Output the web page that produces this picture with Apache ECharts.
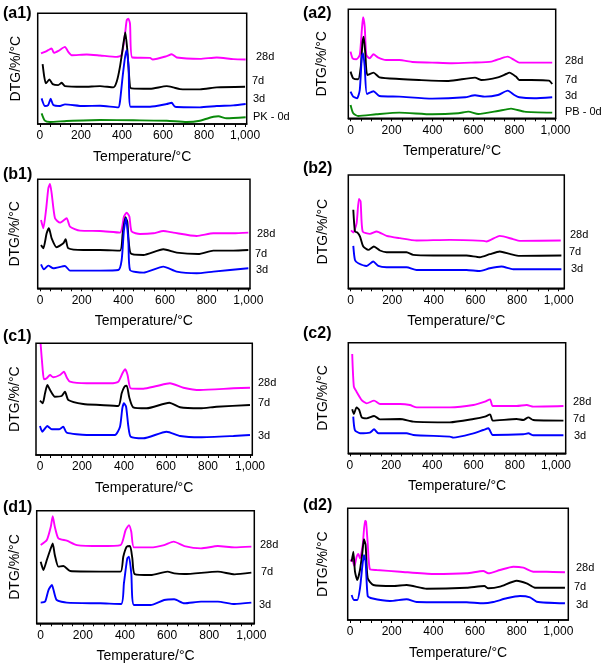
<!DOCTYPE html>
<html><head><meta charset="utf-8">
<script src="https://cdn.jsdelivr.net/npm/echarts@6/dist/echarts.min.js"></script>
<style>html,body{margin:0;padding:0;background:#fff}#c{width:602px;height:664px}</style>
</head><body><div id="c"></div>
<script>
// ---- data: [temperature °C, DTG (arbitrary, offset-stacked)] ----
const xTickLabels = [0, 200, 400, 600, 800, 1000];
const xMinorTicks = [0,50,100,150,200,250,300,350,400,450,500,550,600,650,700,750,800,850,900,950,1000];
const ageNames = ['28d', '7d', '3d'];
const zeroNames = ['PK - 0d', 'PB - 0d'];
const panelNames = ['(a1)', '(a2)', '(b1)', '(b2)', '(c1)', '(c2)', '(d1)', '(d2)'];

const a1_28 = [[5,70.7],[24,72.3],[40,74],[57,75.7],[68,71.3],[90,73.3],[122,77.3],[138,72.3],[155,69],[228,69.7],[293,68.7],[374,67.3],[398,69],[415,90.7],[423,104],[431,105.7],[439,100.7],[450,66.7],[537,66.3],[550,64.7],[618,68],[642,70],[667,66.7],[780,65.3],[862,66.7],[943,65],[1003,64.7]];
const a1_7 = [[13,60],[21,47.3],[29,40.7],[46,44.7],[62,40],[89,39],[106,41.3],[122,38],[211,37.3],[293,38],[358,36.7],[374,42.3],[390,57.3],[407,80.7],[416,91.7],[426,74],[439,37.3],[447,35.7],[537,35.3],[618,38],[650,36.7],[683,35],[780,34.7],[862,36.7],[1000,37.3]];
const a1_3 = [[8,25.7],[24,18],[40,19],[52,25.3],[65,19],[98,18],[122,19.7],[211,18],[293,18.3],[382,16.7],[390,22.3],[403,47.3],[415,67.3],[423,74],[432,57.3],[442,17.3],[537,17.3],[618,20],[642,21.3],[659,17.3],[780,16.7],[862,18],[943,18.7],[1003,20]];
const a1_0 = [[8,10.7],[24,3.3],[49,2],[130,3],[293,4],[455,3.7],[618,3.3],[715,2],[780,3.3],[846,7.3],[870,7.7],[910,5.7],[1003,6.7]];

const a2_28 = [[0,66.7],[10,60],[29,59],[45,63.3],[55,88.3],[61,101],[69,91.7],[77,63.3],[93,60],[112,64],[133,61],[173,58.3],[238,58.3],[302,56.3],[398,55.7],[494,55],[591,55.7],[687,56.7],[735,60],[767,61.7],[799,58.3],[823,55.7],[880,55.7],[984,55.7]];
const a2_7 = [[0,46.7],[13,40],[37,39],[50,51.7],[58,75],[64,81.7],[72,65],[82,43.3],[112,45.7],[141,41],[238,39.3],[334,38.3],[478,37.3],[607,40.7],[639,38.3],[719,41],[759,44.3],[775,45.7],[807,41.7],[823,38.3],[880,38.3],[968,37.7],[984,34.3]];
const a2_3 = [[0,26.7],[13,21.7],[32,20],[45,28.3],[55,61.7],[61,65],[69,51.7],[80,24.3],[112,27],[141,22.3],[238,21.7],[398,19.7],[559,21],[607,23],[655,21.7],[719,23.3],[767,27.7],[799,23.3],[823,21],[896,20],[984,21]];
const a2_0 = [[0,13.3],[13,5],[37,2.3],[125,4],[238,5.7],[398,4],[526,5],[575,6.7],[623,4.3],[719,7.3],[783,9.7],[848,6.7],[984,5.7]];

const b1_28 = [[5,68.3],[16,60],[29,78.3],[40,100],[48,104.3],[56,95],[72,70],[96,65.7],[128,70],[144,61.7],[192,57.7],[288,57.3],[384,55.7],[403,71.7],[416,75.7],[429,71.7],[440,56.7],[480,54.3],[544,55],[592,57.3],[640,55.7],[752,52.3],[832,55],[928,55],[1000,55.7]];
const b1_7 = [[5,43.3],[16,40],[32,55],[43,60],[56,50],[80,41],[112,45],[123,49],[136,40],[208,38.3],[288,38.3],[384,37.7],[397,55],[410,71],[419,66.7],[435,35],[496,33.3],[592,39],[656,35.7],[760,34.3],[832,37.7],[928,37.7],[1000,38.3]];
const b1_3 = [[5,24],[19,19],[40,22.7],[64,20],[120,22.3],[144,17.7],[288,17.7],[376,18.3],[392,28.3],[403,58.3],[413,70],[424,48.3],[432,18.3],[496,15.7],[592,21.7],[656,16.7],[752,15],[832,16.7],[1000,20]];

const b2_28 = [[2,57.7],[13,55.7],[29,65],[40,89],[48,86.7],[58,56.7],[93,54.3],[125,56.7],[173,52.3],[237,50],[317,47.7],[477,48.3],[637,47.3],[653,46.7],[717,52.3],[781,49],[813,47.3],[1010,47.7]];
const b2_7 = [[13,78.3],[21,56.7],[32,55.7],[45,51.7],[61,41.7],[85,38.3],[112,41.7],[141,37.7],[173,36],[269,36],[301,33.3],[397,32.7],[557,32.7],[621,31],[669,34],[717,36.7],[765,34.3],[813,32.3],[1013,32.7]];
const b2_3 = [[13,42.3],[21,28.3],[37,25],[77,22.3],[109,26.7],[133,22.3],[173,21],[269,21],[317,18.3],[557,18.3],[621,17.3],[669,20],[725,21.7],[781,19],[1013,19]];

const c1_28 = [[3,111],[13,85],[19,75.7],[32,76.7],[48,80],[63,77.7],[95,80],[114,83.3],[127,77.7],[143,73.3],[222,71.7],[333,71.7],[373,73.3],[394,82.3],[406,85.7],[417,80],[432,66.7],[492,66.3],[556,69],[619,71.7],[683,67.3],[762,65],[921,66.7],[1000,67.3]];
const c1_7 = [[0,54.3],[13,51.7],[24,61.7],[35,70],[48,65],[71,58.3],[103,59],[119,63.3],[135,55],[206,51],[286,50],[373,49],[389,61.7],[402,68.3],[413,69.3],[425,57.7],[444,47.7],[508,46.7],[616,52.3],[667,47.7],[762,46.7],[841,48.3],[1000,50]];
const c1_3 = [[0,29],[11,23.3],[35,29],[56,25.7],[92,25.7],[111,28.3],[127,22.3],[222,20],[357,20],[381,28.3],[392,46.7],[400,51.7],[410,48.3],[421,28.3],[432,18.3],[492,16.7],[603,23.3],[667,19],[762,17.7],[921,19],[1000,20]];

const c2_28 = [[11,99.3],[19,66.7],[32,61.7],[57,53.3],[81,50],[117,52.7],[146,49.3],[243,49.3],[291,48.3],[324,46],[485,46],[599,48.3],[655,51.7],[680,54],[693,47.3],[809,47.3],[858,48.3],[890,46.7],[1036,47.3]];
const c2_7 = [[11,44],[19,39.3],[32,46],[45,43.3],[57,36],[81,35],[117,37.3],[146,34],[243,34.3],[307,31.7],[485,31],[599,34.3],[655,36.7],[680,39],[693,32.7],[809,34.3],[841,33.3],[866,36],[890,33.3],[1036,32.7]];
const c2_3 = [[16,36.7],[24,23.3],[49,20],[97,20.7],[117,24],[138,20],[275,20],[307,18.3],[485,16.7],[502,15.7],[599,20],[647,23.3],[672,25],[693,18.3],[841,19],[866,20],[890,18],[1036,18]];

const d1_28 = [[0,78.3],[29,83.3],[48,96.7],[57,107.3],[67,96.7],[84,85],[124,82.7],[172,78.3],[283,77.3],[379,78.3],[403,93.3],[419,98.3],[430,91.7],[443,76],[522,76],[586,78.3],[631,81.7],[682,77.3],[761,75],[841,77.3],[920,76],[1000,76.7]];
const d1_7 = [[0,61.7],[13,53.3],[29,63.3],[45,73.3],[57,80],[67,68.3],[84,56.7],[108,57.3],[140,52.3],[283,51.7],[379,51.7],[392,66.7],[408,76.7],[424,77.3],[435,65],[446,49.3],[522,48.3],[602,51.7],[634,50],[682,49.3],[841,51.7],[920,49],[1000,50.7]];
const d1_3 = [[0,20.7],[21,21.7],[37,33.3],[53,38.3],[61,33.3],[76,23.3],[124,20.7],[283,20],[382,19.3],[395,40],[411,65],[419,66.7],[430,50],[443,18.3],[522,18.3],[586,23.3],[634,24],[682,20],[761,21.7],[841,21.7],[920,19.3],[1000,20.7]];

const d2_28 = [[0,59.3],[11,60],[21,54],[32,63.3],[40,66],[48,61.7],[61,75],[72,99.3],[77,98.3],[85,76.7],[96,50.7],[128,50],[240,48.3],[400,46],[560,46.7],[640,49],[664,46.7],[720,50],[784,53.3],[832,52.3],[880,48.3],[944,48.3],[1032,47.7]];
const d2_7 = [[8,58.3],[16,68.3],[24,48.3],[35,40],[48,50],[59,66.7],[67,80.7],[75,75],[85,41.7],[112,35],[208,34],[272,35],[368,31.3],[560,32.3],[645,34],[664,31.7],[720,33.3],[800,39.3],[848,36.7],[888,32.3],[1032,32.3]];
const d2_3 = [[8,25],[19,20],[35,20],[48,31.7],[59,53.3],[67,65],[75,58.3],[85,24],[104,21.7],[192,19],[272,20.7],[320,18],[560,17.7],[640,16.7],[688,18],[752,21.7],[816,24],[864,22.7],[896,18.3],[1032,16.7]];

// ---- layout & styles ----
const FONT = '"Liberation Sans", Arial, Helvetica, sans-serif';
const COL = {m:'#ff00ff', k:'#000000', b:'#0000ff', g:'#0a8a0a'};
const panels = [
  {box:[37.7,13.3,246.7,124], xr:[-11,1008], yMax:111, yGap:15, lab:[3,15],
   lines:[[a1_28,COL.m],[a1_7,COL.k],[a1_3,COL.b],[a1_0,COL.g]],
   tags:[[ageNames[0],256,57],[ageNames[1],252,81],[ageNames[2],253,99],[zeroNames[0],253,117]]},
  {box:[348.3,9.3,555.7,118.3], xr:[-11,1001], yMax:109, yGap:19, lab:[303,15],
   lines:[[a2_28,COL.m],[a2_7,COL.k],[a2_3,COL.b],[a2_0,COL.g]],
   tags:[[ageNames[0],565,61],[ageNames[1],565,80],[ageNames[2],565,96],[zeroNames[1],565,112]]},
  {box:[37.7,179.3,250,288.3], xr:[-11,1008], yMax:109, yGap:16, lab:[3,176],
   lines:[[b1_28,COL.m],[b1_7,COL.k],[b1_3,COL.b]],
   tags:[[ageNames[0],257,234],[ageNames[1],255,254],[ageNames[2],256,270]]},
  {box:[348.3,175,564.3,288.3], xr:[-11,1027], yMax:113, yGap:18, lab:[303,170],
   lines:[[b2_28,COL.m],[b2_7,COL.k],[b2_3,COL.b]],
   tags:[[ageNames[0],570,235],[ageNames[1],569,252],[ageNames[2],571,269]]},
  {box:[36,343.3,252.3,455], xr:[-19,1011], yMax:111.7, yGap:14, lab:[3,338],
   lines:[[c1_28,COL.m],[c1_7,COL.k],[c1_3,COL.b]],
   tags:[[ageNames[0],258,383],[ageNames[1],258,403],[ageNames[2],258,436]]},
  {box:[348.3,342.7,565.7,453.3], xr:[-8,1047], yMax:110.7, yGap:18, lab:[303,335],
   lines:[[c2_28,COL.m],[c2_7,COL.k],[c2_3,COL.b]],
   tags:[[ageNames[0],573,402],[ageNames[1],573,419],[ageNames[2],574,436]]},
  {box:[36.7,510.7,254.3,623.3], xr:[-19,1014], yMax:112.7, yGap:14.5, lab:[3,509],
   lines:[[d1_28,COL.m],[d1_7,COL.k],[d1_3,COL.b]],
   tags:[[ageNames[0],260,545],[ageNames[1],261,572],[ageNames[2],259,605]]},
  {box:[347.7,508.3,568.3,620], xr:[-11,1048], yMax:111.7, yGap:18, lab:[303,507],
   lines:[[d2_28,COL.m],[d2_7,COL.k],[d2_3,COL.b]],
   tags:[[ageNames[0],576,568],[ageNames[1],574,587],[ageNames[2],576,605]]}
];

const fmt = v => v >= 1000 ? Math.floor(v/1000) + ',' + String(v % 1000).padStart(3,'0') : String(v);

const grid = [], xAxis = [], yAxis = [], series = [], graphic = [];
panels.forEach((p, i) => {
  const [L,T,R,B] = p.box;
  grid.push({left:L, top:T, width:R-L, height:B-T, show:true, borderColor:'#000', borderWidth:1.5,
             backgroundColor:'transparent', containLabel:false, outerBoundsMode:'none'});
  xAxis.push({type:'value', gridIndex:i, min:p.xr[0], max:p.xr[1],
    axisLine:{show:true, onZero:false, lineStyle:{color:'#000', width:1.5}},
    axisTick:{show:true, length:3, inside:false, customValues:xMinorTicks, lineStyle:{color:'#000', width:1}},
    axisLabel:{show:true, customValues:xTickLabels, formatter:fmt, margin:6, color:'#000', fontSize:12, fontFamily:FONT},
    splitLine:{show:false},
    name:'Temperature/°C', nameLocation:'middle', nameGap:26,
    nameTextStyle:{color:'#000', fontSize:14, fontFamily:FONT}});
  yAxis.push({type:'value', gridIndex:i, min:0, max:p.yMax,
    axisLine:{show:false}, axisTick:{show:false}, axisLabel:{show:false}, splitLine:{show:false},
    name:'DTG/%/°C', nameLocation:'middle', nameGap:p.yGap,
    nameTextStyle:{color:'#000', fontSize:14, fontFamily:FONT}});
  p.lines.forEach(([d, c]) => {
    series.push({type:'line', xAxisIndex:i, yAxisIndex:i, data:d, showSymbol:false, symbol:'none',
      lineStyle:{color:c, width:1.9}, smooth:0.2, animation:false, silent:true});
  });
  graphic.push({type:'text', left:p.lab[0], top:p.lab[1]-9,
    style:{text:panelNames[i], font:'bold 16px ' + FONT, fill:'#000'}});
  p.tags.forEach(([t, x, y]) => {
    graphic.push({type:'text', left:x, top:y-6, style:{text:t, font:'11px ' + FONT, fill:'#000'}});
  });
});

const chart = echarts.init(document.getElementById('c'), null, {renderer:'canvas'});
chart.setOption({animation:false, backgroundColor:'#fff', grid, xAxis, yAxis, series, graphic});
</script></body></html>
